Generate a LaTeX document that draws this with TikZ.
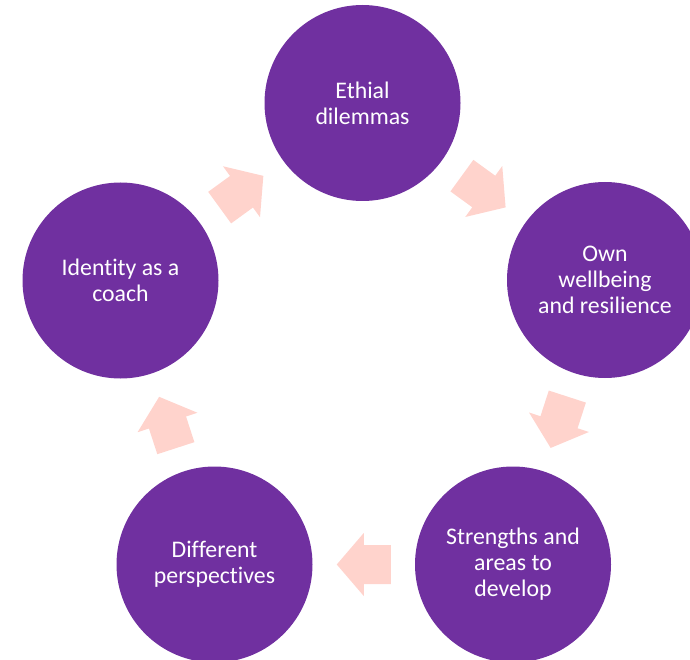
\documentclass[tikz,border=0pt]{standalone}
\usepackage{fontspec}
\setmainfont{Carlito}[Ligatures=NoCommon]
\usetikzlibrary{calc}
\definecolor{circpurple}{HTML}{7030A0}
\definecolor{arrowpink}{RGB}{255,211,204}
\tikzset{
  stage/.style={circle, fill=circpurple, draw=none, minimum size=196pt, inner sep=0pt,
    text=white, align=center, font=\fontsize{23.8}{26}\selectfont},
  blockarrow/.style={fill=arrowpink, draw=none}
}
\begin{document}
\begin{tikzpicture}[x=1pt, y=-1pt]
\useasboundingbox (0,0) rectangle (690,660);
\clip (0,0) rectangle (690,660);
\node[stage] (top) at (362.5,103) {Ethial\\dilemmas};
\node[stage] (right) at (605,280) {Own\\wellbeing\\and resilience};
\node[stage] (bright) at (513,564.5) {Strengths and\\areas to\\develop};
\node[stage] (bleft) at (214.5,564.5) {Different\\perspectives};
\node[stage] (left) at (120.5,280.5) {Identity as a\\coach};
\foreach \a/\b/\ang in {top/right/-36, right/bright/-108, bright/bleft/180, bleft/left/108, left/top/36}{
  \begin{scope}[shift={($(\a)!0.5!(\b)$)}, rotate=\ang]
    \fill[blockarrow] (-27,19.5) -- (0,19.5) -- (0,31.5) -- (27,0) -- (0,-31.5) -- (0,-19.5) -- (-27,-19.5) -- cycle;
  \end{scope}
}
\end{tikzpicture}
\end{document}
